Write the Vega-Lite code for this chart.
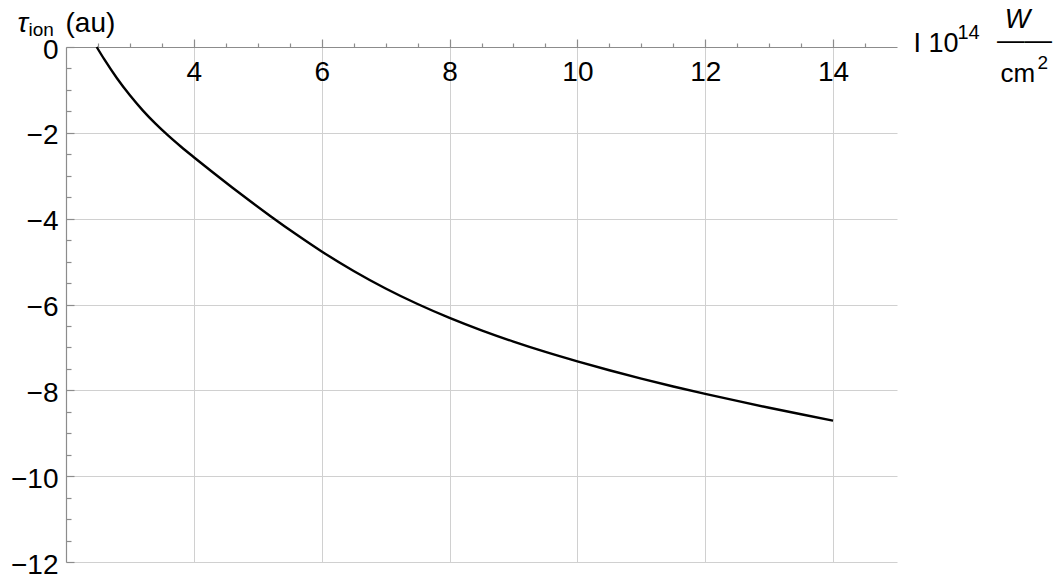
{
  "$schema": "https://vega.github.io/schema/vega-lite/v6.json",
  "width": 831,
  "height": 515,
  "autosize": {"type": "none"},
  "padding": {"left": 66, "top": 47, "right": 156, "bottom": 15},
  "background": "white",
  "config": {
    "view": {"stroke": null},
    "axis": {
      "labelFont": "Liberation Sans",
      "titleFont": "Liberation Sans",
      "titleFontWeight": "normal",
      "titleColor": "black",
      "labelColor": "black",
      "titleAngle": 0,
      "titleAlign": "left",
      "titleBaseline": "alphabetic",
      "labelOverlap": false,
      "labelFlush": false,
      "labelBound": false,
      "domainColor": "#8c8c8c",
      "tickColor": "#8c8c8c",
      "domainWidth": 1.2,
      "tickWidth": 1.2
    }
  },
  "datasets": {
    "curve": [
      {"I": 2.48, "tau": 0.0},
      {"I": 2.6, "tau": -0.29},
      {"I": 2.8, "tau": -0.734},
      {"I": 3.0, "tau": -1.126},
      {"I": 3.2, "tau": -1.476},
      {"I": 3.4, "tau": -1.786},
      {"I": 3.6, "tau": -2.066},
      {"I": 3.8, "tau": -2.324},
      {"I": 4.0, "tau": -2.568},
      {"I": 4.3, "tau": -2.925},
      {"I": 4.6, "tau": -3.273},
      {"I": 4.9, "tau": -3.612},
      {"I": 5.2, "tau": -3.942},
      {"I": 5.6, "tau": -4.364},
      {"I": 6.0, "tau": -4.764},
      {"I": 6.5, "tau": -5.219},
      {"I": 7.0, "tau": -5.627},
      {"I": 7.5, "tau": -5.989},
      {"I": 8.0, "tau": -6.312},
      {"I": 8.5, "tau": -6.602},
      {"I": 9.0, "tau": -6.865},
      {"I": 9.5, "tau": -7.105},
      {"I": 10.0, "tau": -7.325},
      {"I": 10.5, "tau": -7.532},
      {"I": 11.0, "tau": -7.727},
      {"I": 11.5, "tau": -7.91},
      {"I": 12.0, "tau": -8.082},
      {"I": 12.5, "tau": -8.247},
      {"I": 13.0, "tau": -8.406},
      {"I": 13.5, "tau": -8.558},
      {"I": 14.0, "tau": -8.706}
    ]
  },
  "data": {"name": "curve"},
  "layer": [
    {
      "mark": {"type": "line", "color": "black", "strokeWidth": 2.4, "interpolate": "monotone"},
      "encoding": {
        "x": {
          "field": "I", "type": "quantitative",
          "scale": {"domain": [2, 15], "nice": false, "zero": false},
          "axis": {
            "orient": "top",
            "values": [4, 6, 8, 10, 12, 14],
            "format": "d",
            "tickSize": 8,
            "labelFontSize": 28,
            "labelPadding": -41.5,
            "labelBaseline": "alphabetic",
            "grid": true,
            "gridColor": "#d0d0d0",
            "gridWidth": 1,
            "title": "I 10",
            "titleFontSize": 27,
            "titleX": 847,
            "titleY": 4.7
          }
        },
        "y": {
          "field": "tau", "type": "quantitative",
          "scale": {"domain": [-12, 0], "nice": false, "zero": false},
          "axis": {
            "orient": "left",
            "values": [0, -2, -4, -6, -8, -10, -12],
            "format": "d",
            "tickSize": -8,
            "labelFontSize": 28,
            "labelPadding": 16,
            "labelBaseline": "alphabetic",
            "labelOffset": 11,
            "grid": true,
            "gridColor": {"condition": {"test": "datum.value === 0", "value": "transparent"}, "value": "#d0d0d0"},
            "gridWidth": 1,
            "title": "τ",
            "titleFontSize": 28,
            "titleFontStyle": "italic",
            "titleX": -49,
            "titleY": -15.3
          }
        }
      }
    },
    {
      "mark": {"type": "line", "opacity": 0},
      "encoding": {
        "x": {
          "field": "I", "type": "quantitative",
          "axis": {
            "orient": "top",
            "values": [2.5, 3, 3.5, 4.5, 5, 5.5, 6.5, 7, 7.5, 8.5, 9, 9.5, 10.5, 11, 11.5, 12.5, 13, 13.5, 14.5],
            "tickSize": 4,
            "labels": false,
            "domain": false,
            "grid": false,
            "title": "14",
            "titleFontSize": 20,
            "titleX": 891,
            "titleY": -8.7
          }
        },
        "y": {
          "field": "tau", "type": "quantitative",
          "axis": {
            "orient": "left",
            "values": [-0.5, -1, -1.5, -2.5, -3, -3.5, -4.5, -5, -5.5, -6.5, -7, -7.5, -8.5, -9, -9.5, -10.5, -11, -11.5],
            "tickSize": -5,
            "labels": false,
            "domain": false,
            "grid": false,
            "title": "ion",
            "titleFontSize": 19,
            "titleX": -38,
            "titleY": -12
          }
        }
      }
    },
    {
      "mark": {"type": "line", "opacity": 0},
      "encoding": {
        "x": {
          "field": "I", "type": "quantitative",
          "axis": {
            "orient": "top",
            "ticks": false, "labels": false, "domain": false, "grid": false,
            "title": "W",
            "titleFontSize": 27,
            "titleFontStyle": "italic",
            "titleAlign": "center",
            "titleX": 951,
            "titleY": -20
          }
        },
        "y": {
          "field": "tau", "type": "quantitative",
          "axis": {
            "orient": "left",
            "ticks": false, "labels": false, "domain": false, "grid": false,
            "title": "(au)",
            "titleFontSize": 28,
            "titleX": -1,
            "titleY": -16
          }
        }
      }
    },
    {
      "mark": {"type": "line", "opacity": 0},
      "encoding": {
        "x": {
          "field": "I", "type": "quantitative",
          "axis": {
            "orient": "top",
            "ticks": false, "labels": false, "domain": false, "grid": false,
            "title": "——",
            "titleFontSize": 27.5,
            "titleAlign": "center",
            "titleX": 958,
            "titleY": 1.8
          }
        },
        "y": {
          "field": "tau", "type": "quantitative",
          "axis": {
            "orient": "left",
            "ticks": false, "labels": false, "domain": false, "grid": false,
            "title": "cm",
            "titleFontSize": 26,
            "titleX": 934,
            "titleY": 34.7
          }
        }
      }
    },
    {
      "mark": {"type": "line", "opacity": 0},
      "encoding": {
        "x": {
          "field": "I", "type": "quantitative",
          "axis": {
            "orient": "top",
            "ticks": false, "labels": false, "domain": false, "grid": false,
            "title": "2",
            "titleFontSize": 19,
            "titleX": 971,
            "titleY": 21
          }
        },
        "y": {
          "field": "tau", "type": "quantitative",
          "axis": {
            "orient": "left",
            "ticks": false, "labels": false, "domain": false, "grid": false,
            "title": null
          }
        }
      }
    }
  ],
  "resolve": {"axis": {"x": "independent", "y": "independent"}}
}
